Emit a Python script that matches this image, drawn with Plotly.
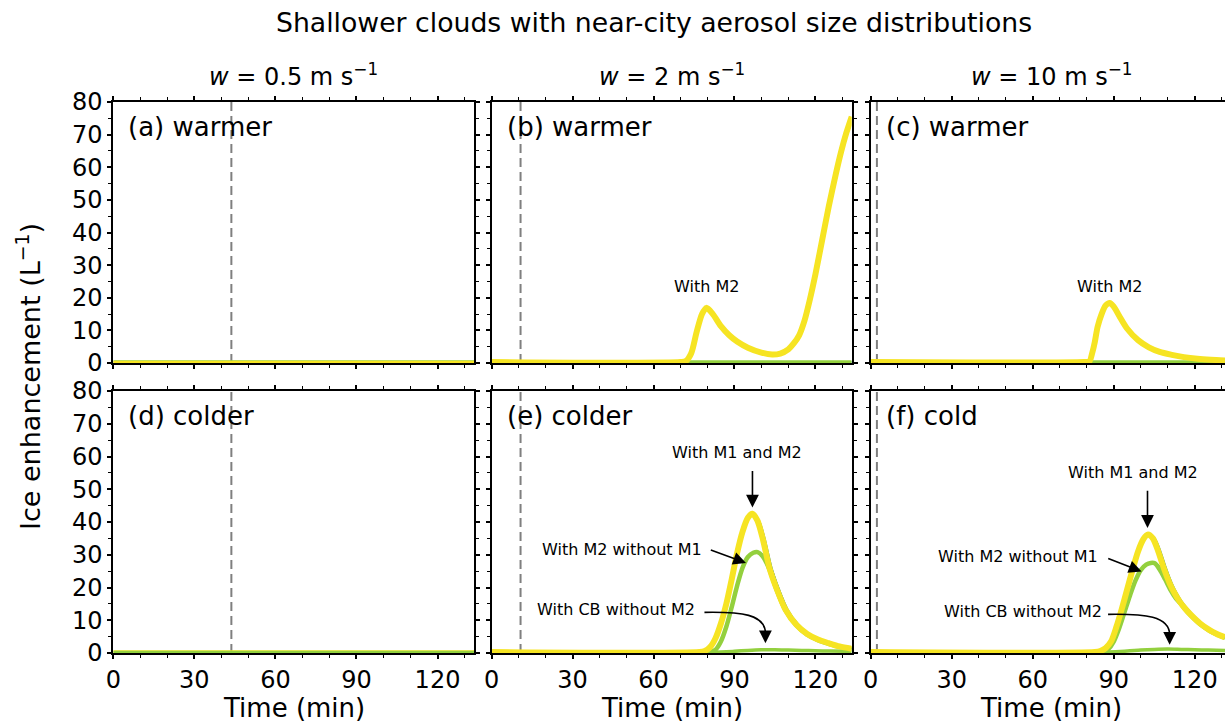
import plotly.graph_objects as go

W, H = 1225, 725
FONT = "DejaVu Sans"

# ---------------- data ----------------
panel_labels = ["(a) warmer", "(b) warmer", "(c) warmer", "(d) colder", "(e) colder", "(f) cold"]
w_values = ["0.5", "2", "10"]
onset_time = [43.7, 10.7, 2.3]          # dashed vertical line per column (min)
x_max = [133.5, 133.5, 131.2]

t_flat = [0, 133.5]
v_flat = [0.3, 0.3]

# (b) with M2
b_t = [0, 70, 72, 74, 76, 78, 79.6, 82, 85, 88, 91, 95, 100, 104, 107, 110, 112, 114, 116,
       118, 120, 122.5, 125, 127.5, 129.5, 131.5, 133.5]
b_v = [0.3, 0.3, 0.6, 3, 9.5, 15, 16.9, 15, 11.3, 8.6, 6.6, 4.7, 3.2, 2.6, 2.9, 4.2, 6.0,
       8.5, 13, 19.5, 27, 37.5, 48, 57.5, 64.5, 70.5, 75.5]

# (c) with M2
c_t = [0, 79, 81, 82, 83, 84, 85.5, 87, 88.5, 90, 92, 95, 99, 103, 107, 111.5, 116, 121, 126, 131.2]
c_v = [0.3, 0.3, 0.5, 3, 6.5, 11, 15, 17.6, 18.4, 17.3, 14.5, 10.5, 7, 4.8, 3.4, 2.5, 1.8, 1.3, 1.0, 0.8]

# (e) colder, w = 2
e_m12_t = [0, 77, 79, 81, 83, 85, 87, 89, 91, 93, 95, 96.7, 98.5, 100.5, 103, 105.5, 109,
           113, 117, 121, 125, 129, 133.5]
e_m12_v = [0.3, 0.3, 0.6, 1.8, 4.5, 9, 15, 22.5, 30.5, 37, 41.3, 42.5, 40.5, 35, 26, 20,
           13.2, 8.6, 5.8, 4.1, 3.0, 2.0, 1.3]
e_m12b_t = [0, 77, 79, 81, 83, 85, 87, 89, 91, 93, 95, 96.9, 99.2, 101.3, 103.9, 106.4, 109.9,
            113.9, 117.9, 121.9, 125.9, 129.9, 133.5]
e_m12b_v = [0.3, 0.3, 0.6, 1.8, 4.5, 9, 15, 22.5, 30.5, 37, 41.3, 42.5, 40.5, 35, 26, 20,
            13.2, 8.6, 5.8, 4.1, 3.0, 2.0, 1.4]
e_m2_t = [0, 81, 83, 85, 87, 89, 91, 93, 95, 97, 98.6, 100.5, 103, 105.5, 109, 113, 117,
          121, 125, 129, 133.5]
e_m2_v = [0.3, 0.3, 1, 3.5, 8, 14, 20.5, 26, 29.3, 30.6, 30.8, 29.5, 25.5, 19.6, 12.9,
          8.4, 5.6, 3.9, 2.8, 1.9, 1.2]
e_m2b_t = [0, 81, 83, 85, 87, 89, 91, 93, 95, 97, 98.8, 101.3, 103.9, 106.4, 109.9, 113.9,
           117.9, 121.9, 125.9, 129.9, 133.5]
e_m2b_v = [0.3, 0.3, 1, 3.5, 8, 14, 20.5, 26, 29.3, 30.6, 30.8, 29.5, 25.5, 19.6, 12.9,
           8.4, 5.6, 3.9, 2.8, 1.9, 1.3]
e_cb_t = [0, 85, 90, 95, 100, 105, 110, 115, 120, 125, 133.5]
e_cb_v = [0.3, 0.3, 0.5, 0.8, 1.0, 1.0, 0.9, 0.8, 0.7, 0.6, 0.5]

# (f) cold, w = 10
f_m12_t = [0, 83, 85, 87, 89, 91, 93, 95, 97, 99, 101, 102.7, 104.5, 106.5, 108.5, 110.7,
           112.5, 114.5, 116.5, 118.5, 122, 125.5, 128, 131.2]
f_m12_v = [0.3, 0.3, 0.6, 1.5, 3.5, 8, 13.5, 19.5, 25.5, 31, 34.8, 36.2, 35, 31, 26, 21.3,
           18.3, 15.6, 13.5, 11.7, 9.0, 7.0, 5.9, 4.8]
f_m12b_t = [0, 83, 85, 87, 89, 91, 93, 95, 97, 99, 101, 102.9, 105.3, 107.4, 109.4, 111.6,
            113.4, 115.4, 117.4, 119.4, 122.9, 126.4, 128.9, 131.2]
f_m12b_v = [0.3, 0.3, 0.6, 1.5, 3.5, 8, 13.5, 19.5, 25.5, 31, 34.8, 36.2, 35, 31, 26, 21.3,
            18.3, 15.6, 13.5, 11.7, 9.0, 7.0, 5.9, 5.1]
f_m2_t = [0, 86, 88, 90, 92, 94, 96, 98, 100, 102, 103.7, 105.2, 107, 109, 111, 113, 114.5,
          116.5, 118.5, 122, 125.5, 128, 131.2]
f_m2_v = [0.3, 0.3, 1.2, 3.5, 7.5, 12.5, 17.5, 22, 25.3, 27, 27.5, 27.4, 25.5, 22.5, 19.3,
          16.7, 15.3, 13.3, 11.5, 8.8, 6.8, 5.7, 4.6]
f_m2b_t = [0, 86, 88, 90, 92, 94, 96, 98, 100, 102, 103.7, 105.6, 107.9, 109.9, 111.9, 113.9,
           115.4, 117.4, 119.4, 122.9, 126.4, 128.9, 131.2]
f_m2b_v = [0.3, 0.3, 1.2, 3.5, 7.5, 12.5, 17.5, 22, 25.3, 27, 27.5, 27.4, 25.5, 22.5, 19.3,
           16.7, 15.3, 13.3, 11.5, 8.8, 6.8, 5.7, 4.9]
f_cb_t = [0, 88, 95, 100, 105, 110, 115, 120, 125, 131.2]
f_cb_v = [0.3, 0.3, 0.6, 0.9, 1.1, 1.2, 1.1, 1.0, 0.9, 0.8]

# annotation texts/positions (time, value)
lab_m2 = {2: (79.6, 23.3), 3: (88.5, 23.3)}
lab_m12 = {5: ((91.0, 61.3), (96.7, 56.0), (96.7, 44.4)),
           6: ((97.2, 55.1), (102.5, 50.0), (102.5, 38.2))}
lab_m2nm1 = {5: ((48.3, 31.6), (80.7, 31.6), (94.3, 27.5)),
             6: ((54.6, 29.5), (87.4, 29.0), (100.3, 24.9))}
lab_cb = {5: ((46.2, 13.2), (78.9, 12.4), (101.5, 3.0)),
          6: ((56.5, 12.7), (87.9, 11.8), (110.7, 2.5))}

# ---------------- style ----------------
YEL = "#f6e423"
GRN = "#93d03e"
TEAL = "#2b8c8c"
DASH = "#7f7f7f"

col_px = [(113.3, 474.0), (491.7, 851.7), (870.7, 1225.0)]
row_px = [(102.0, 363.0), (391.0, 653.0)]
col_center = [293.7, 671.7, 1051.0]


def px_x(p):
    return p / W


def px_y(p):
    return 1 - p / H


fig = go.Figure()


def add_line(i, t, v, color, width):
    fig.add_trace(go.Scatter(x=t, y=v, mode="lines",
                             line=dict(color=color, width=width, shape="spline", smoothing=0.8),
                             xaxis="x" + ("" if i == 1 else str(i)),
                             yaxis="y" + ("" if i == 1 else str(i)),
                             showlegend=False, hoverinfo="skip"))


# panel a, d
add_line(1, t_flat, v_flat, GRN, 3.5)
add_line(1, t_flat, v_flat, YEL, 2.5)
add_line(4, t_flat, v_flat, YEL, 3.5)
add_line(4, t_flat, v_flat, GRN, 2.5)
# panel b
add_line(2, t_flat, v_flat, TEAL, 1.5)
add_line(2, t_flat, v_flat, GRN, 3.5)
add_line(2, b_t, b_v, YEL, 6)
# panel c
add_line(3, t_flat, v_flat, TEAL, 1.5)
add_line(3, t_flat, v_flat, GRN, 3.5)
add_line(3, c_t, c_v, YEL, 6)
# panel e
add_line(5, e_m12b_t, e_m12b_v, TEAL, 1.5)
add_line(5, e_m2b_t, e_m2b_v, TEAL, 1.5)
add_line(5, e_cb_t, e_cb_v, GRN, 3.5)
add_line(5, e_m2_t, e_m2_v, GRN, 4.5)
add_line(5, e_m12_t, e_m12_v, YEL, 6)
# panel f
add_line(6, f_m12b_t, f_m12b_v, TEAL, 1.5)
add_line(6, f_m2b_t, f_m2b_v, TEAL, 1.5)
add_line(6, f_cb_t, f_cb_v, GRN, 3.5)
add_line(6, f_m2_t, f_m2_v, GRN, 4.5)
add_line(6, f_m12_t, f_m12_v, YEL, 6)

layout = {}
shapes = []
annotations = []
for i in range(1, 7):
    r = (i - 1) // 3
    c = (i - 1) % 3
    xd = [px_x(col_px[c][0]), px_x(col_px[c][1])]
    yd = [px_y(row_px[r][1]), px_y(row_px[r][0])]
    sfx = "" if i == 1 else str(i)
    j = i + 6
    tickfont = dict(size=24, family=FONT, color="black")
    ymirror = "allticks" if c < 2 else False
    layout["xaxis" + sfx] = dict(
        domain=xd, range=[0, x_max[c]], anchor="y" + sfx, automargin=False,
        showline=True, linecolor="black", linewidth=2, mirror="allticks",
        ticks="outside", ticklen=4, tickwidth=1.6, tickcolor="black",
        tick0=0, dtick=30, showgrid=False, zeroline=False,
        showticklabels=(r == 1), tickfont=tickfont,
        minor=dict(dtick=10, tick0=0, ticks="outside", ticklen=3, tickwidth=1.2,
                   tickcolor="black", showgrid=False),
    )
    layout["yaxis" + sfx] = dict(
        domain=yd, range=[0, 80], anchor="x" + sfx, automargin=False,
        showline=True, linecolor="black", linewidth=2, mirror=ymirror,
        ticks="outside", ticklen=4, tickwidth=1.6, tickcolor="black",
        tick0=0, dtick=10, showgrid=False, zeroline=False,
        showticklabels=(c == 0), tickfont=tickfont,
        minor=dict(dtick=5, tick0=0, ticks="outside", ticklen=3, tickwidth=1.2,
                   tickcolor="black", showgrid=False),
    )
    # overlay axes for inward half of ticks
    layout["xaxis" + str(j)] = dict(
        domain=xd, range=[0, x_max[c]], anchor="y" + sfx, overlaying="x" + sfx,
        automargin=False, showline=False, mirror="allticks",
        ticks="inside", ticklen=4, tickwidth=1.6, tickcolor="black",
        tick0=0, dtick=30, showgrid=False, zeroline=False, showticklabels=False,
        minor=dict(dtick=10, tick0=0, ticks="inside", ticklen=3, tickwidth=1.2,
                   tickcolor="black", showgrid=False),
    )
    layout["yaxis" + str(j)] = dict(
        domain=yd, range=[0, 80], anchor="x" + sfx, overlaying="y" + sfx,
        automargin=False, showline=False, mirror=ymirror,
        ticks="inside", ticklen=4, tickwidth=1.6, tickcolor="black",
        tick0=0, dtick=10, showgrid=False, zeroline=False, showticklabels=False,
        minor=dict(dtick=5, tick0=0, ticks="inside", ticklen=3, tickwidth=1.2,
                   tickcolor="black", showgrid=False),
    )
    # dashed onset line
    shapes.append(dict(type="line", xref="x" + sfx, yref="y" + sfx + " domain",
                       x0=onset_time[c], x1=onset_time[c], y0=0, y1=1,
                       line=dict(color=DASH, width=2, dash="9px,5px"), layer="below"))
    # panel label
    annotations.append(dict(text=panel_labels[i - 1], xref="paper", yref="paper",
                            x=px_x(col_px[c][0] + 13), y=px_y(row_px[r][0] + 25),
                            xanchor="left", yanchor="middle", showarrow=False,
                            font=dict(size=26, family=FONT, color="black")))

afont = dict(size=16, family=FONT, color="black")
for i, (tx, ty) in lab_m2.items():
    annotations.append(dict(text="With M2", xref="x%d" % i, yref="y%d" % i, x=tx, y=ty,
                            showarrow=False, font=afont))


def arrow(i, tail, head):
    return dict(text="", xref="x%d" % i, yref="y%d" % i, axref="x%d" % i, ayref="y%d" % i,
                x=head[0], y=head[1], ax=tail[0], ay=tail[1], showarrow=True,
                arrowhead=2, arrowsize=1.6, arrowwidth=1.6, arrowcolor="black", standoff=0)


for i, (txt, tail, head) in lab_m12.items():
    annotations.append(dict(text="With M1 and M2", xref="x%d" % i, yref="y%d" % i,
                            x=txt[0], y=txt[1], showarrow=False, font=afont))
    annotations.append(arrow(i, tail, head))
for i, (txt, tail, head) in lab_m2nm1.items():
    annotations.append(dict(text="With M2 without M1", xref="x%d" % i, yref="y%d" % i,
                            x=txt[0], y=txt[1], showarrow=False, font=afont))
    annotations.append(arrow(i, tail, head))
for i, (txt, tail, head) in lab_cb.items():
    annotations.append(dict(text="With CB without M2", xref="x%d" % i, yref="y%d" % i,
                            x=txt[0], y=txt[1], showarrow=False, font=afont))
    mid_y = head[1] + 3.0
    c1 = (tail[0] + 0.6 * (head[0] - tail[0]), tail[1] + 0.2)
    c2 = (head[0], tail[1] - 0.5)
    shapes.append(dict(type="path", xref="x%d" % i, yref="y%d" % i,
                       path="M %g,%g C %g,%g %g,%g %g,%g" % (tail[0], tail[1], c1[0], c1[1],
                                                              c2[0], c2[1], head[0], mid_y),
                       line=dict(color="black", width=1.6)))
    annotations.append(arrow(i, (head[0], mid_y), head))

# column titles and axis titles
for c in range(3):
    annotations.append(dict(text="<i>w</i> = %s m s<sup>−1</sup>" % w_values[c],
                            xref="paper", yref="paper", x=px_x(col_center[c]), y=px_y(75),
                            xanchor="center", yanchor="middle", showarrow=False,
                            font=dict(size=24, family=FONT, color="black")))
    annotations.append(dict(text="Time (min)", xref="paper", yref="paper",
                            x=px_x(col_center[c]), y=px_y(708), xanchor="center",
                            yanchor="middle", showarrow=False,
                            font=dict(size=26, family=FONT, color="black")))
annotations.append(dict(text="Ice enhancement (L<sup>−1</sup>)", xref="paper", yref="paper",
                        x=px_x(28), y=px_y(377), textangle=-90, xanchor="center",
                        yanchor="middle", showarrow=False,
                        font=dict(size=27, family=FONT, color="black")))
annotations.append(dict(text="Shallower clouds with near-city aerosol size distributions",
                        xref="paper", yref="paper", x=px_x(654), y=px_y(23),
                        xanchor="center", yanchor="middle", showarrow=False,
                        font=dict(size=26.7, family=FONT, color="black")))

fig.update_layout(**layout)
fig.update_layout(width=W, height=H, margin=dict(l=0, r=0, t=0, b=0, pad=0),
                  plot_bgcolor="white", paper_bgcolor="white",
                  shapes=shapes, annotations=annotations,
                  font=dict(family=FONT, color="black"))

fig.write_html("out.html", config={"displayModeBar": False},
               post_script="document.body.style.margin='0';document.body.style.overflow='hidden';")
